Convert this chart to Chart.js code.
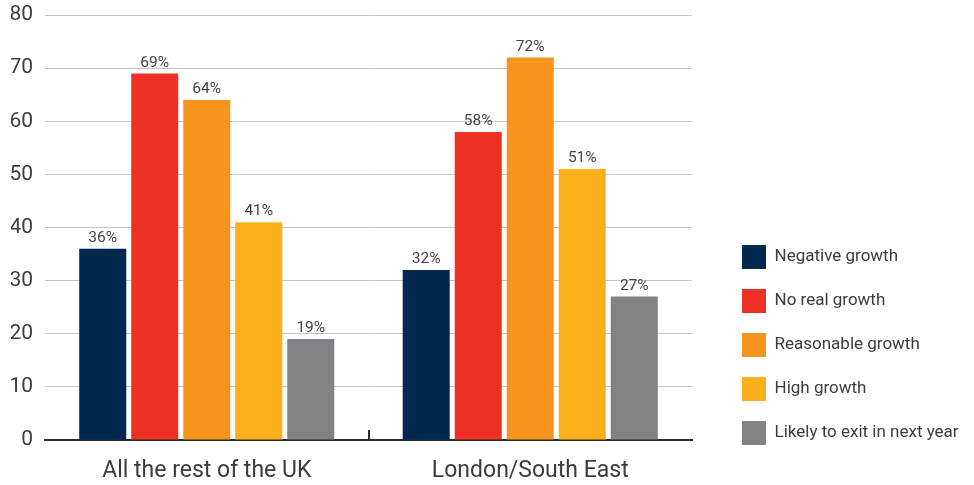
<!DOCTYPE html>
<html>
<head>
<meta charset="utf-8">
<script src="https://cdn.jsdelivr.net/npm/chart.js@4.4.1/dist/chart.umd.min.js"></script>
<style>
  html, body { margin: 0; padding: 0; background: #fff; }
  #wrap { width: 974px; height: 485px; }
</style>
</head>
<body>
<div id="wrap"><canvas id="growthChart"></canvas></div>
<script>
// Data
const categories = ['All the rest of the UK', 'London/South East'];
const seriesNames = ['Negative growth', 'No real growth', 'Reasonable growth', 'High growth', 'Likely to exit in next year'];
const negativeGrowth = [36, 32];
const noRealGrowth = [69, 58];
const reasonableGrowth = [64, 72];
const highGrowth = [41, 51];
const likelyToExit = [19, 27];
const seriesColors = ['#01284e', '#ee3124', '#f7941d', '#fbb01b', '#808285'];
const yMax = 80;
const yStep = 10;

const textColor = '#3c3c3c';
const fontFamily = 'Roboto, "Liberation Sans", sans-serif';

const seriesValues = [negativeGrowth, noRealGrowth, reasonableGrowth, highGrowth, likelyToExit];

// percentage labels above each bar
const barLabels = {
  id: 'barLabels',
  afterDatasetsDraw(chart) {
    const ctx = chart.ctx;
    ctx.save();
    ctx.font = '15.5px ' + fontFamily;
    ctx.fillStyle = '#444';
    ctx.textAlign = 'center';
    ctx.textBaseline = 'bottom';
    chart.data.datasets.forEach((ds, i) => {
      chart.getDatasetMeta(i).data.forEach((bar, j) => {
        ctx.fillText(ds.data[j] + '%', bar.x, bar.y - 3);
      });
    });
    ctx.restore();
  }
};

// small divider tick between the two groups, sitting on the axis
const groupDivider = {
  id: 'groupDivider',
  afterDatasetsDraw(chart) {
    const x = chart.scales.x, y = chart.scales.y, ctx = chart.ctx;
    const base = y.getPixelForValue(0);
    ctx.save();
    ctx.strokeStyle = '#2b2b2b';
    ctx.lineWidth = 2;
    for (let i = 1; i < categories.length; i++) {
      const px = Math.round((x.getPixelForValue(i - 1) + x.getPixelForValue(i)) / 2);
      ctx.beginPath();
      ctx.moveTo(px, base);
      ctx.lineTo(px, base - 10);
      ctx.stroke();
    }
    ctx.restore();
  }
};

// keep the legend wide and place the column like the reference
const legendPlacement = {
  id: 'legendPlacement',
  beforeUpdate(chart) {
    const legend = chart.legend;
    if (!legend || legend._wrapped) return;
    const fit = legend.fit;
    legend.fit = function () { fit.call(this); this.width = 282; };
    legend._wrapped = true;
  },
  afterLayout(chart) {
    const legend = chart.legend;
    legend.left = chart.chartArea.right + 30;
    legend.bottom = chart.chartArea.bottom + 25;
  }
};

new Chart(document.getElementById('growthChart'), {
  type: 'bar',
  data: {
    labels: categories,
    datasets: seriesNames.map((name, i) => ({
      label: name,
      data: seriesValues[i],
      backgroundColor: seriesColors[i],
      borderWidth: 0,
      categoryPercentage: 0.804,
      barPercentage: 0.904
    }))
  },
  options: {
    responsive: true,
    maintainAspectRatio: false,
    animation: false,
    layout: { padding: { left: 11, top: 15, right: 0, bottom: 3 } },
    plugins: {
      tooltip: { enabled: false },
      legend: {
        position: 'right',
        align: 'end',
        labels: {
          boxWidth: 24,
          boxHeight: 24,
          padding: 20,
          color: textColor,
          font: { family: fontFamily, size: 17 }
        }
      }
    },
    scales: {
      x: {
        grid: { display: false },
        border: { display: true, color: '#2b2b2b', width: 2 },
        ticks: { color: textColor, padding: 9, maxRotation: 0, minRotation: 0, autoSkip: false, font: { family: fontFamily, size: 23 } },
        afterFit(scale) { scale.height = 42; }
      },
      y: {
        min: 0,
        max: yMax,
        grid: {
          drawTicks: false,
          lineWidth: 1,
          color: c => (c.tick && c.tick.value === 0 ? 'rgba(0,0,0,0)' : '#c4c4c4')
        },
        border: { display: false },
        ticks: { stepSize: yStep, padding: 12, color: textColor, font: { family: fontFamily, size: 21 } },
        afterFit(scale) { scale.width = 34; scale.paddingTop = 0; scale.paddingBottom = 0; }
      }
    }
  },
  plugins: [barLabels, groupDivider, legendPlacement]
});
</script>
</body>
</html>
